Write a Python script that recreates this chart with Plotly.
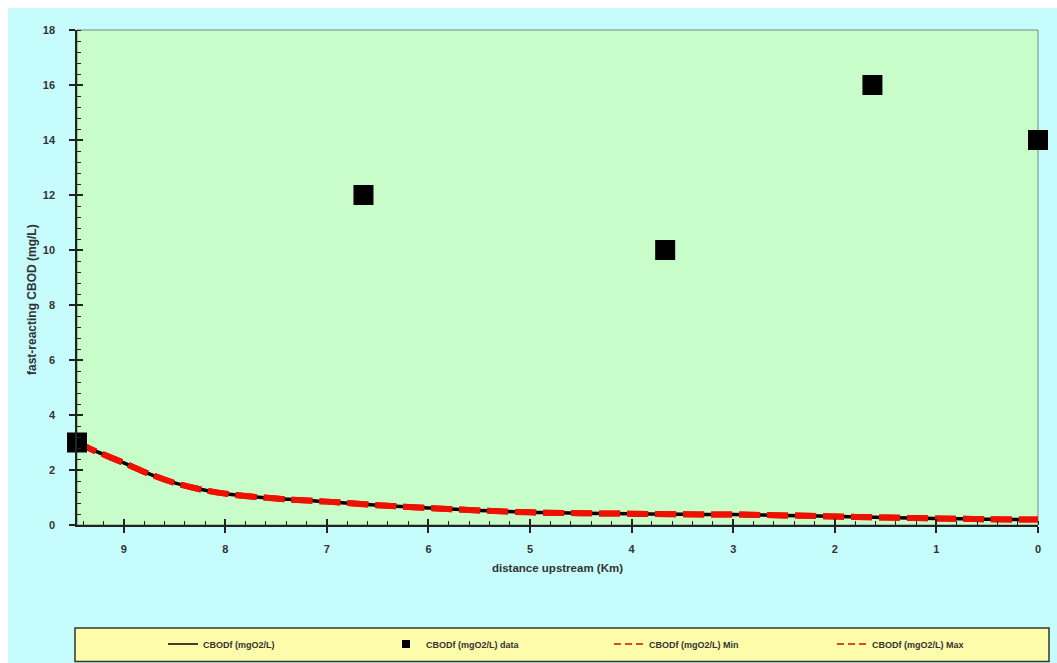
import plotly.graph_objects as go

# Model profile of fast-reacting CBOD along the reach (km upstream of outlet)
dist_km = [9.46, 9.3, 9.0, 8.75, 8.5, 8.25, 8.0, 7.5, 7.0, 6.5, 6.0, 5.5, 5.0,
           4.5, 4.0, 3.5, 3.0, 2.5, 2.0, 1.5, 1.0, 0.5, 0.0]
cbodf = [3.0, 2.72, 2.26, 1.86, 1.53, 1.3, 1.14, 0.96, 0.85, 0.72, 0.62, 0.53, 0.46,
         0.43, 0.41, 0.39, 0.38, 0.35, 0.31, 0.27, 0.24, 0.21, 0.2]
cbodf_min = list(cbodf)
cbodf_max = list(cbodf)

# Observed values
obs_km = [9.46, 6.64, 3.67, 1.63, 0.0]
obs_cbodf = [3.0, 12.0, 10.0, 16.0, 14.0]

x_ticks = [0, 1, 2, 3, 4, 5, 6, 7, 8, 9]
y_ticks = [0, 2, 4, 6, 8, 10, 12, 14, 16, 18]

names = ["CBODf (mgO2/L)", "CBODf (mgO2/L) data",
         "CBODf (mgO2/L) Min", "CBODf (mgO2/L) Max"]

CYAN = "#c6fcfc"
GREEN = "#c8fcc8"
YELLOW = "#fdfcab"
TXT = "#333333"
AX = "#222222"
FONT = "Liberation Sans"
X_RANGE = [9.46, 0]
Y_RANGE = [0, 18]

fig = go.Figure()

# plotted series (legend entries drawn separately below)
fig.add_trace(go.Scatter(x=dist_km, y=cbodf, mode="lines", showlegend=False,
                         line=dict(color="black", width=3.5, shape="spline")))
fig.add_trace(go.Scatter(x=dist_km, y=cbodf_min, mode="lines", showlegend=False,
                         line=dict(color="#ee1100", width=6, dash="21px,7px", shape="spline")))
fig.add_trace(go.Scatter(x=dist_km, y=cbodf_max, mode="lines", showlegend=False,
                         line=dict(color="#ee1100", width=6, dash="21px,7px", shape="spline")))
fig.add_trace(go.Scatter(x=obs_km, y=obs_cbodf, mode="markers", showlegend=False,
                         cliponaxis=False,
                         marker=dict(symbol="square", size=20, color="black",
                                     line=dict(width=0))))

# empty trace tying the inner-tick overlay axes to a subplot
fig.add_trace(go.Scatter(x=[None], y=[None], xaxis="x2", yaxis="y2",
                         showlegend=False, hoverinfo="skip"))

# legend entries
fig.add_trace(go.Scatter(x=[None], y=[None], mode="lines", name=names[0],
                         line=dict(color="black", width=1.5)))
fig.add_trace(go.Scatter(x=[None], y=[None], mode="markers", name=names[1],
                         marker=dict(symbol="square", size=8, color="black")))
fig.add_trace(go.Scatter(x=[None], y=[None], mode="lines", name=names[2],
                         line=dict(color="#cc1100", width=1.5, dash="7px,4px")))
fig.add_trace(go.Scatter(x=[None], y=[None], mode="lines", name=names[3],
                         line=dict(color="#cc1100", width=1.5, dash="7px,4px")))

L, R, T, B = 77, 19, 30, 138
W, H = 1057, 663
pw, ph = W - L - R, H - T - B


def px_x(px):
    return (px - L) / pw


def px_y(py):
    return 1 - (py - T) / ph


shapes = [
    # white page strip along top and left
    dict(type="rect", xref="paper", yref="paper", layer="below",
         x0=px_x(-5), x1=px_x(W + 5), y0=px_y(8), y1=px_y(-5),
         fillcolor="white", line=dict(width=0)),
    dict(type="rect", xref="paper", yref="paper", layer="below",
         x0=px_x(-5), x1=px_x(8), y0=px_y(H + 5), y1=px_y(-5),
         fillcolor="white", line=dict(width=0)),
    # plot frame (top / right)
    dict(type="rect", xref="paper", yref="paper", layer="below",
         x0=0, x1=1, y0=0, y1=1, fillcolor=GREEN,
         line=dict(color="#6f8f7f", width=1)),
    # legend box
    dict(type="rect", xref="paper", yref="paper", layer="below",
         x0=px_x(75), x1=px_x(1049), y0=px_y(661.5), y1=px_y(628),
         fillcolor=YELLOW, line=dict(color="#333333", width=1.5)),
]

axis_font = dict(family=FONT, size=11, color=TXT, weight="bold")

fig.update_layout(
    width=W, height=H,
    margin=dict(l=L, r=R, t=T, b=B, autoexpand=False),
    paper_bgcolor=CYAN,
    plot_bgcolor=GREEN,
    shapes=shapes,
    showlegend=True,
    legend=dict(orientation="h", x=px_x(163), xanchor="left",
                y=px_y(644), yanchor="middle",
                bgcolor="rgba(0,0,0,0)", borderwidth=0,
                entrywidth=178, entrywidthmode="pixels",
                font=dict(family=FONT, size=9, color=TXT, weight="bold"),
                tracegroupgap=0),
    xaxis=dict(range=X_RANGE, tickvals=x_ticks, showgrid=False, zeroline=False,
               showline=True, linecolor=AX, linewidth=1.5,
               ticks="outside", ticklen=6, tickwidth=1.5, tickcolor=AX,
               minor=dict(dtick=0.2, ticks="inside", ticklen=4, tickwidth=1,
                          tickcolor=AX, showgrid=False),
               tickfont=axis_font, ticklabelstandoff=7,
               title=dict(text="distance upstream (Km)", standoff=10,
                          font=dict(family=FONT, size=11.5, color=TXT, weight="bold"))),
    yaxis=dict(range=Y_RANGE, tickvals=y_ticks, showgrid=False, zeroline=False,
               showline=True, linecolor=AX, linewidth=1.5,
               ticks="outside", ticklen=6, tickwidth=1.5, tickcolor=AX,
               minor=dict(dtick=0.4, ticks="inside", ticklen=4, tickwidth=1,
                          tickcolor=AX, showgrid=False),
               tickfont=axis_font, ticklabelstandoff=12),
    # overlay axes carrying the inner half of the major ticks
    xaxis2=dict(range=X_RANGE, tickvals=x_ticks, overlaying="x", anchor="y2",
                side="bottom", showgrid=False, zeroline=False, showline=False,
                showticklabels=False, ticks="inside", ticklen=6, tickwidth=1.5,
                tickcolor=AX),
    yaxis2=dict(range=Y_RANGE, tickvals=y_ticks, overlaying="y", anchor="x2",
                side="left", showgrid=False, zeroline=False, showline=False,
                showticklabels=False, ticks="inside", ticklen=6, tickwidth=1.5,
                tickcolor=AX),
    annotations=[
        dict(text="fast-reacting CBOD (mg/L)", textangle=-90,
             xref="paper", yref="paper", x=px_x(32), y=px_y(300),
             xanchor="center", yanchor="middle", showarrow=False,
             font=dict(family=FONT, size=12, color=TXT, weight="bold")),
    ],
)

fig.write_html("out.html")
